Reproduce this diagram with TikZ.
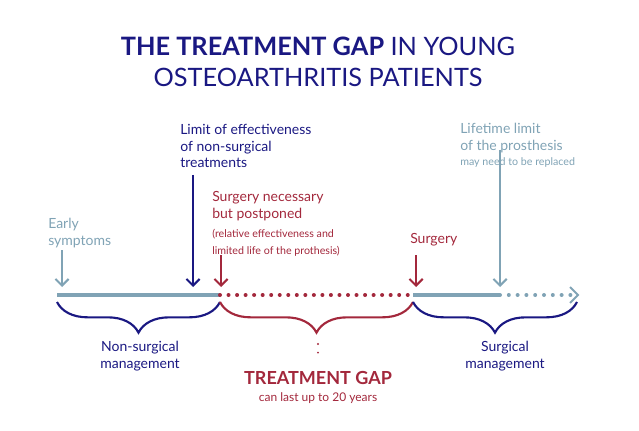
\documentclass[tikz,border=0pt]{standalone}
\usepackage{fontspec}
\setmainfont{Lato}
\usetikzlibrary{positioning}
\usetikzlibrary{calc}
\usetikzlibrary{arrows.meta}
\usetikzlibrary{decorations.pathreplacing}
\definecolor{navy}{RGB}{26,24,130}
\definecolor{wine}{RGB}{163,40,60}
\definecolor{steel}{RGB}{128,163,181}
\tikzset{lbl/.style={inner sep=0pt,align=left,anchor=north west,font=\fontsize{10.5}{12.5}\selectfont}}
\tikzset{tip/.style={-{Straight Barb[length=5pt,width=10pt]},line width=1.5pt}}
\tikzset{brc/.style={decorate,decoration={brace,mirror,amplitude=23pt,aspect=0.5},line width=1.6pt}}
\begin{document}
\begin{tikzpicture}[x=0.75pt,y=-0.75pt]
\useasboundingbox (0,0) rectangle (639,431);
% title
\node (title) [align=center,text=navy,font=\fontsize{19}{23}\selectfont] at (318,62)
  {\textbf{THE TREATMENT GAP} IN YOUNG\\OSTEOARTHRITIS PATIENTS};

% timeline points
\coordinate (a) at (57,295);
\coordinate (b) at (220,295);
\coordinate (c) at (413,295);
\coordinate (d) at (500,295);
\coordinate (e) at (578,295);
\draw[steel,line width=2.7pt] (a) -- (b);
\draw[wine,line width=3pt,line cap=round,dash pattern=on 0pt off 6.4pt] (b) -- (c);
\draw[steel,line width=2.7pt] (c) -- (d);
\draw[steel,line width=3pt,line cap=round,dash pattern=on 0pt off 6.6pt] (d) -- ($(e)+(-6,0)$);
\draw[steel,line width=1.5pt] (570,287) -- (e) -- (570,303);

% labels
\node (early) [lbl,text=steel] at (48,218) {Early\\symptoms};
\node (limit) [lbl,text=navy] at (180,124) {Limit of effectiveness\\of non-surgical\\treatments};
\node (post) [lbl,text=wine] at (212,191) {Surgery necessary\\but postponed\\[2pt]{\fontsize{8}{10.5}\selectfont(relative effectiveness and}\\{\fontsize{8}{10.5}\selectfont limited life of the prothesis)}};
\node (surg) [lbl,text=wine] at (410,233) {Surgery};
\node (life) [lbl,text=steel] at (460,123) {Lifetime limit\\of the prosthesis\\[-1pt]{\fontsize{8}{10}\selectfont may need to be replaced}};

% arrows
\coordinate (ea) at (62,250);   \coordinate (eb) at (62,287);
\coordinate (la) at (193,175);  \coordinate (lb) at (193,287);
\coordinate (pa) at (221,255);  \coordinate (pb) at (221,287);
\coordinate (sa) at (416,255);  \coordinate (sb) at (416,287);
\coordinate (ta) at (500,150);  \coordinate (tb) at (500,287);
\draw[tip,steel] (ea) -- (eb);
\draw[tip,navy] (la) -- (lb);
\draw[tip,wine] (pa) -- (pb);
\draw[tip,wine] (sa) -- (sb);
\draw[tip,steel] (ta) -- (tb);

% braces
\draw[brc,navy] (57,302) -- (220,302);
\draw[brc,wine] (220,302) -- (413,302);
\draw[brc,navy] (413,302) -- (577,302);
\coordinate (ga) at (318,344);
\coordinate (gb) at (318,360);
\draw[wine,line width=1.6pt,line cap=round,dash pattern=on 0pt off 6.5pt] (ga) -- (gb);

\node (nonsurg) [align=center,text=navy,font=\fontsize{10.5}{12.5}\selectfont] at (140,356) {Non-surgical\\management};
\node (surgm) [align=center,text=navy,font=\fontsize{10.5}{12.5}\selectfont] at (505,356) {Surgical\\management};
\node (gap) [text=wine,font=\bfseries\fontsize{13.5}{16}\selectfont] at (318,378) {TREATMENT GAP};
\node (last) [text=wine,font=\fontsize{9}{11}\selectfont] at (318,398) {can last up to 20 years};
\end{tikzpicture}
\end{document}
